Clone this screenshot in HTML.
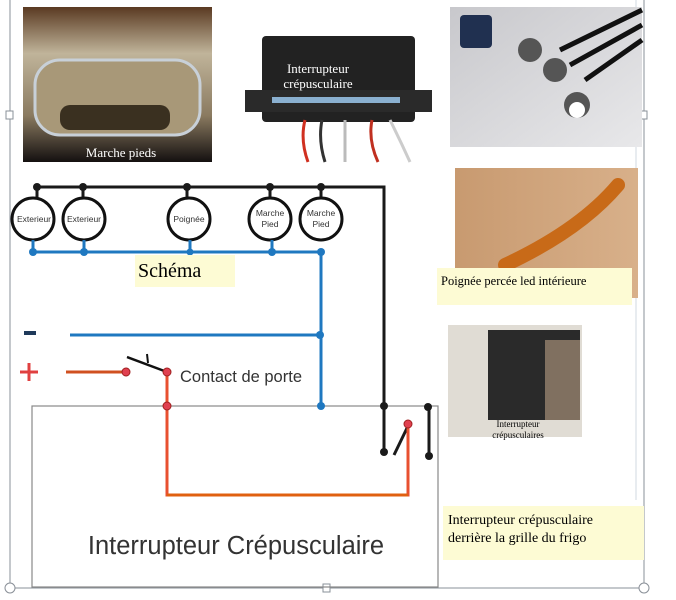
<!DOCTYPE html>
<html><head><meta charset="utf-8"><style>
html,body{margin:0;padding:0;background:#fff;width:676px;height:600px;overflow:hidden}
svg{display:block}
</style></head><body>
<svg width="676" height="600" viewBox="0 0 676 600" xmlns="http://www.w3.org/2000/svg">
<defs>
<linearGradient id="p1" x1="0" y1="0" x2="0" y2="1"><stop offset="0" stop-color="#5a3a22"/><stop offset="0.3" stop-color="#c0b49a"/><stop offset="0.7" stop-color="#8a7a60"/><stop offset="1" stop-color="#141010"/></linearGradient>
<linearGradient id="p3" x1="0" y1="0" x2="1" y2="1"><stop offset="0" stop-color="#c8c8cc"/><stop offset="1" stop-color="#e8e8ea"/></linearGradient>
<linearGradient id="p4" x1="0" y1="0" x2="1" y2="0"><stop offset="0" stop-color="#c89a70"/><stop offset="1" stop-color="#d8b08a"/></linearGradient>
</defs>
<g stroke="#8a9098" stroke-width="1" fill="none">
<line x1="10" y1="0" x2="10" y2="588"/>
<line x1="644" y1="0" x2="644" y2="588"/>
<line x1="10" y1="588" x2="644" y2="588"/>
<line x1="636" y1="0" x2="636" y2="500" stroke="#d0d8e0"/>
</g>
<g fill="#fff" stroke="#8a9098">
<rect x="6" y="111" width="7" height="8"/><rect x="640" y="111" width="7" height="8"/>
<rect x="323" y="584" width="7" height="8"/><circle cx="10" cy="588" r="5"/><circle cx="644" cy="588" r="5"/>
</g>
<rect x="23" y="7" width="189" height="155" fill="url(#p1)"/>
<rect x="35" y="60" width="165" height="75" rx="25" fill="#a89878" stroke="#c8d0d8" stroke-width="3"/>
<rect x="60" y="105" width="110" height="25" rx="10" fill="#3a3020"/>
<text x="121" y="157" font-family="Liberation Serif,serif" font-size="13" fill="#fff" text-anchor="middle">Marche pieds</text>
<rect x="262" y="36" width="153" height="86" rx="4" fill="#222"/>
<rect x="245" y="90" width="187" height="22" fill="#2a2a2a"/>
<rect x="272" y="97" width="128" height="6" fill="#8ab0d0"/>
<g stroke-width="3" fill="none"><path d="M305 120 Q300 140 308 162" stroke="#d03020"/><path d="M322 120 Q318 140 325 162" stroke="#333"/><path d="M345 120 L345 162" stroke="#bbb"/><path d="M372 120 Q368 140 378 162" stroke="#c03020"/><path d="M390 120 Q400 140 410 162" stroke="#ccc"/></g>
<text x="318" y="73" font-family="Liberation Serif,serif" font-size="13" fill="#fff" text-anchor="middle">Interrupteur</text>
<text x="318" y="88" font-family="Liberation Serif,serif" font-size="13" fill="#fff" text-anchor="middle">crépusculaire</text>
<rect x="450" y="7" width="192" height="140" fill="url(#p3)"/>
<rect x="460" y="15" width="32" height="33" rx="4" fill="#203050"/>
<path d="M560 50 L642 10 M570 65 L642 25 M585 80 L642 40" stroke="#111" stroke-width="5"/>
<circle cx="530" cy="50" r="12" fill="#555"/><circle cx="555" cy="70" r="12" fill="#555"/><circle cx="577" cy="105" r="13" fill="#555"/>
<circle cx="577" cy="110" r="8" fill="#fff"/>
<rect x="455" y="168" width="183" height="130" fill="url(#p4)"/>
<path d="M505 265 Q580 230 618 185" stroke="#c86a18" stroke-width="14" fill="none" stroke-linecap="round"/>
<rect x="437" y="268" width="195" height="37" fill="#fdfbd4"/>
<text x="441" y="285" font-family="Liberation Serif,serif" font-size="12.5" fill="#000">Poignée percée led intérieure</text>
<rect x="448" y="325" width="134" height="112" fill="#e0dcd4"/>
<rect x="488" y="330" width="92" height="90" fill="#2a2a2a"/>
<rect x="545" y="340" width="35" height="80" fill="#807060"/>
<text x="518" y="427" font-family="Liberation Serif,serif" font-size="9" fill="#000" text-anchor="middle">Interrupteur</text>
<text x="518" y="438" font-family="Liberation Serif,serif" font-size="9" fill="#000" text-anchor="middle">crépusculaires</text>
<rect x="443" y="506" width="201" height="54" fill="#fdfbd4"/>
<text x="448" y="524" font-family="Liberation Serif,serif" font-size="14" fill="#000">Interrupteur crépusculaire</text>
<text x="448" y="542" font-family="Liberation Serif,serif" font-size="14" fill="#000">derrière la grille du frigo</text>
<rect x="32" y="406" width="406" height="181" fill="none" stroke="#888" stroke-width="1.2"/>
<text x="236" y="554" font-family="Liberation Sans,sans-serif" font-size="25.5" fill="#333" text-anchor="middle">Interrupteur Crépusculaire</text>
<g stroke="#1a1a1a" stroke-width="3" fill="none">
<polyline points="37,187 384,187 384,452"/>
<line x1="37" y1="187" x2="37" y2="200"/><line x1="83" y1="187" x2="83" y2="200"/><line x1="187" y1="187" x2="187" y2="198"/><line x1="270" y1="187" x2="270" y2="198"/><line x1="321" y1="187" x2="321" y2="198"/>
<line x1="429" y1="407" x2="429" y2="455"/>
<line x1="394" y1="455" x2="408" y2="426"/>
</g>
<g fill="#1a1a1a"><circle cx="37" cy="187" r="4"/><circle cx="83" cy="187" r="4"/><circle cx="187" cy="187" r="4"/><circle cx="270" cy="187" r="4"/><circle cx="321" cy="187" r="4"/>
<circle cx="384" cy="406" r="4"/><circle cx="384" cy="452" r="4"/><circle cx="428" cy="407" r="4"/><circle cx="429" cy="456" r="4"/></g>
<g fill="#fff" stroke="#111" stroke-width="3"><circle cx="33" cy="219" r="21"/><circle cx="84" cy="219" r="21"/><circle cx="189" cy="219" r="21"/><circle cx="270" cy="219" r="21"/><circle cx="321" cy="219" r="21"/></g>
<g font-family="Liberation Sans,sans-serif" font-size="8.5" fill="#333" text-anchor="middle">
<text x="34" y="222">Exterieur</text><text x="84" y="222">Exterieur</text><text x="189" y="222">Poignée</text>
<text x="270" y="216">Marche</text><text x="270" y="227">Pied</text><text x="321" y="216">Marche</text><text x="321" y="227">Pied</text></g>
<g stroke="#1f78c0" stroke-width="3" fill="none"><polyline points="33,252 321,252 321,406"/><line x1="70" y1="335" x2="321" y2="335"/>
<line x1="33" y1="240" x2="33" y2="252"/><line x1="84" y1="240" x2="84" y2="252"/><line x1="190" y1="240" x2="190" y2="252"/><line x1="272" y1="240" x2="272" y2="252"/></g>
<g fill="#1f78c0"><circle cx="33" cy="252" r="4"/><circle cx="84" cy="252" r="4"/><circle cx="190" cy="252" r="3.5"/><circle cx="272" cy="252" r="4"/><circle cx="321" cy="252" r="4"/><circle cx="320" cy="335" r="4"/><circle cx="321" cy="406" r="4"/></g>
<rect x="135" y="255" width="100" height="32" fill="#fdfbd4"/>
<text x="138" y="277" font-family="Liberation Serif,serif" font-size="20" fill="#000">Schéma</text>
<rect x="24" y="331" width="12" height="4" fill="#1f3a5a"/>
<g stroke="#e04040" stroke-width="3"><line x1="20" y1="372" x2="38" y2="372"/><line x1="29" y1="363" x2="29" y2="381"/></g>
<line x1="66" y1="372" x2="126" y2="372" stroke="#d05020" stroke-width="3"/>
<polyline points="167,372 167,495 408,495 408,424" stroke="#e85030" stroke-width="3" fill="none"/>
<line x1="167" y1="495" x2="408" y2="495" stroke="#e06010" stroke-width="3"/>
<line x1="127" y1="357" x2="167" y2="372" stroke="#111" stroke-width="2.5"/>
<line x1="147" y1="354" x2="148" y2="363" stroke="#111" stroke-width="2"/>
<g fill="#e04050" stroke="#a02020" stroke-width="1"><circle cx="126" cy="372" r="4"/><circle cx="167" cy="372" r="4"/><circle cx="167" cy="406" r="4"/><circle cx="408" cy="424" r="4"/></g>
<text x="180" y="382" font-family="Liberation Sans,sans-serif" font-size="16.5" fill="#333">Contact de porte</text>
</svg>
</body></html>
